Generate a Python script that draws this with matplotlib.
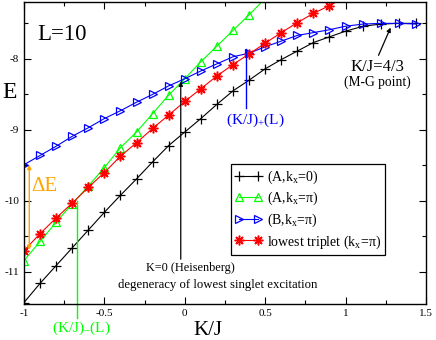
import numpy as np
import matplotlib
matplotlib.use('Agg')
import matplotlib.pyplot as plt

plt.rcParams['font.family'] = ['Liberation Serif', 'DejaVu Serif']
plt.rcParams['mathtext.fontset'] = 'custom'
plt.rcParams['mathtext.rm'] = 'Liberation Serif'
plt.rcParams['mathtext.it'] = 'Liberation Serif:italic'
plt.rcParams['mathtext.bf'] = 'Liberation Serif:bold'
plt.rcParams['axes.unicode_minus'] = False

# K/J grid of the data
kj_full = [-1.0, -0.9, -0.8, -0.7, -0.6, -0.5, -0.4, -0.3, -0.2, -0.1, 0.0,
           0.1, 0.2, 0.3, 0.4, 0.5, 0.6, 0.7, 0.8, 0.9, 1.0,
           1.11, 1.22, 1.33, 1.44]
kj_green = kj_full[:16]
kj_red = kj_full[:21]

# (A, kx=0)
e_black = [-11.43, -11.16, -10.91, -10.66, -10.41, -10.16, -9.92, -9.69, -9.45, -9.22,
           -9.03, -8.84, -8.64, -8.45, -8.30, -8.14, -8.01, -7.89, -7.77, -7.69,
           -7.61, -7.54, -7.51, -7.50, -7.50]
# (A, kx=pi)
e_green = [-10.84, -10.57, -10.30, -10.04, -9.79, -9.53, -9.25, -9.03, -8.77, -8.51,
           -8.28, -8.04, -7.82, -7.60, -7.38, -7.15]
# (B, kx=pi)
e_blue = [-9.49, -9.36, -9.23, -9.09, -8.97, -8.84, -8.73, -8.61, -8.50, -8.38,
          -8.28, -8.17, -8.07, -7.97, -7.92, -7.83, -7.75, -7.67, -7.63, -7.59,
          -7.54, -7.51, -7.50, -7.50, -7.51]
# lowest triplet (kx=pi)
e_red = [-10.70, -10.46, -10.24, -10.03, -9.81, -9.60, -9.37, -9.18, -8.98, -8.79,
         -8.60, -8.42, -8.24, -8.08, -7.93, -7.78, -7.63, -7.49, -7.36, -7.25,
         -7.13]

labels = [r'(A,k$_\mathrm{x}$=0)', r'(A,k$_\mathrm{x}$=π)',
          r'(B,k$_\mathrm{x}$=π)', r'lowest triplet (k$_\mathrm{x}$=π)']

fig = plt.figure(figsize=(4.36, 3.40), dpi=100)
ax = fig.add_axes([0.055, 0.106, 0.922, 0.888])

lw = 0.8
ax.plot(kj_full, e_black, color='black', lw=lw, marker='+', ms=7, mew=0.9, label=labels[0])
ax.plot(kj_green, e_green, color='#00ff00', lw=lw, marker='^', ms=6, mfc='none', mew=0.9, label=labels[1])
ax.plot(kj_full, e_blue, color='blue', lw=lw, marker='>', ms=6, mfc='none', mew=0.9, label=labels[2])
ax.plot(kj_red, e_red, color='red', lw=lw, marker=(8, 2, 0), ms=7, mew=1.1, label=labels[3])

ax.set_xlim(-1, 1.5)
ax.set_ylim(-11.45, -7.2)
ax.set_xticks([-1, -0.5, 0, 0.5, 1, 1.5])
ax.set_xticklabels(['-1', '-0.5', '0', '0.5', '1', '1.5'])
ax.set_xticks(np.arange(-1, 1.51, 0.25), minor=True)
ax.set_yticks([-11, -10, -9, -8])
ax.set_yticklabels(['-11', '-10', '-9', '-8'])
ax.set_yticks(np.arange(-11, -7.2, 0.5), minor=True)
ax.tick_params(which='both', direction='in', top=True, right=True, labelsize=8, width=0.8)
ax.tick_params(which='major', length=5)
ax.tick_params(which='minor', length=3)
for s in ax.spines.values():
    s.set_linewidth(1.0)

ax.set_xlabel('K/J', fontsize=15, va='center')
ax.xaxis.set_label_coords(0.458, -0.087)
ax.set_ylabel('E', fontsize=17, rotation=0, va='center', ha='center')
ax.yaxis.set_label_coords(-0.035, 0.70)

# annotations
ax.text(-0.764, -7.66, 'L=10', fontsize=16.5, ha='center', va='center')

ax.annotate('', xy=(-0.967, -9.49), xytext=(-0.967, -10.69),
            arrowprops=dict(arrowstyle='<|-|>', color='orange', lw=1.0,
                            mutation_scale=6, shrinkA=0, shrinkB=0))
ax.text(-0.955, -9.8, 'ΔE', color='orange', fontsize=15, ha='left', va='center')

ax.plot([-0.671, -0.671], [-10.0, -11.65], color='#00ff00', lw=1.0, clip_on=False)
ax.text(-0.646, -11.80, r'(K/J)$_{-}$(L)', color='#00ff00', fontsize=11,
        ha='center', va='center', clip_on=False)

ax.plot([0.383, 0.383], [-7.86, -8.69], color='blue', lw=1.0)
ax.text(0.438, -8.86, r'(K/J)$_{+}$(L)', color='blue', fontsize=11,
        ha='center', va='center')

ax.annotate('', xy=(-0.025, -8.32), xytext=(-0.025, -10.82),
            arrowprops=dict(arrowstyle='-|>', color='black', lw=0.9,
                            mutation_scale=6, shrinkA=0, shrinkB=0))
ax.text(0.034, -10.94, 'K=0 (Heisenberg)', fontsize=8.8, ha='center', va='center')
ax.text(0.203, -11.19, 'degeneracy of lowest singlet excitation', fontsize=9.2,
        ha='center', va='center')

ax.annotate('', xy=(1.28, -7.56), xytext=(1.205, -7.95),
            arrowprops=dict(arrowstyle='-|>', color='black', lw=0.9,
                            mutation_scale=6, shrinkA=0, shrinkB=0))
ax.text(1.199, -8.11, 'K/J=4/3', fontsize=12, ha='center', va='center')
ax.text(1.197, -8.33, '(M-G point)', fontsize=9.8, ha='center', va='center')

leg = ax.legend(loc='upper left', bbox_to_anchor=(0.514, 0.462), fontsize=10,
                numpoints=2, handlelength=2.0, handletextpad=0.3, labelspacing=0.3,
                borderpad=0.3, borderaxespad=0, fancybox=False, framealpha=1,
                edgecolor='black')
leg.get_frame().set_linewidth(0.9)

fig.savefig('out.png', dpi=100)
